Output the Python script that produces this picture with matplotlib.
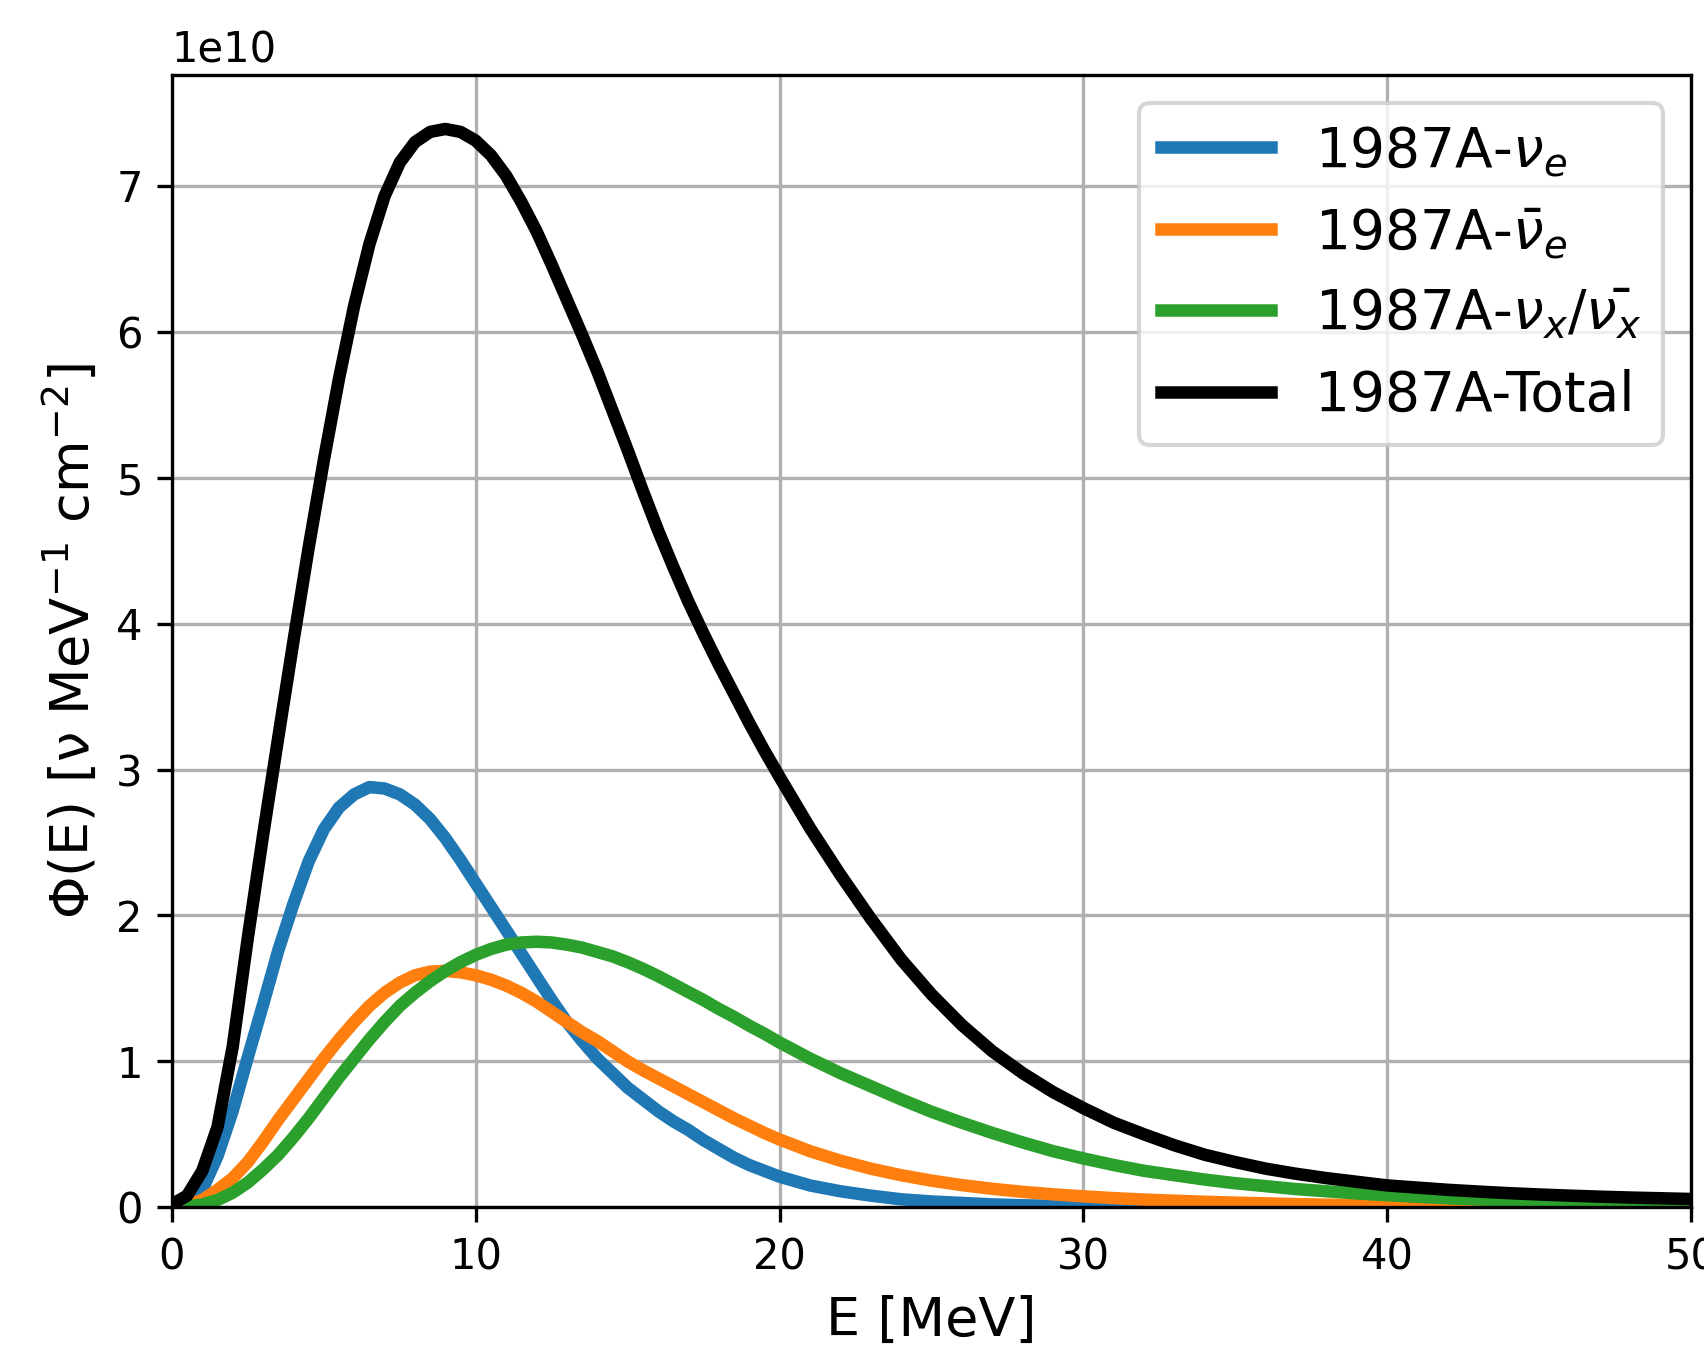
"""SN1987A neutrino spectra at Earth, per flavour and total."""

import matplotlib
matplotlib.use("Agg")
import matplotlib.pyplot as plt

# energy grid [MeV]: half-MeV steps up to 20, then 1 MeV
energy = [i * 0.5 for i in range(41)] + list(range(21, 51))

# fluxes in units of 1e10 nu / MeV / cm^2
flux_nue = [
    # 0 .. 20 in 0.5 steps
    0.0, 0.03, 0.12, 0.35, 0.66, 1.03, 1.39, 1.76, 2.08, 2.37,
    2.59, 2.74, 2.83, 2.88, 2.87, 2.83, 2.76, 2.66, 2.53, 2.38,
    2.22, 2.06, 1.90, 1.74, 1.58, 1.42, 1.27, 1.14, 1.02, 0.92,
    0.82, 0.74, 0.66, 0.59, 0.53, 0.46, 0.40, 0.34, 0.29, 0.25,
    0.21,
    # 21 .. 50
    0.15, 0.11, 0.08, 0.055, 0.04, 0.03, 0.02, 0.014, 0.01, 0.007,
    0.005, 0.004, 0.003, 0.002, 0.002, 0.001, 0.001, 0.001, 0.0, 0.0,
    0.0, 0.0, 0.0, 0.0, 0.0, 0.0, 0.0, 0.0, 0.0, 0.0,
]
flux_nuebar = [
    0.0, 0.015, 0.05, 0.12, 0.20, 0.31, 0.45, 0.60, 0.74, 0.88,
    1.02, 1.15, 1.27, 1.38, 1.47, 1.54, 1.59, 1.615, 1.62, 1.61,
    1.59, 1.56, 1.52, 1.47, 1.41, 1.34, 1.27, 1.20, 1.14, 1.07,
    1.00, 0.94, 0.885, 0.83, 0.775, 0.72, 0.665, 0.61, 0.56, 0.51,
    0.465,
    0.385, 0.32, 0.265, 0.22, 0.183, 0.152, 0.127, 0.106, 0.089, 0.075,
    0.063, 0.053, 0.045, 0.038, 0.032, 0.027, 0.022, 0.018, 0.015, 0.012,
    0.010, 0.008, 0.007, 0.006, 0.005, 0.004, 0.003, 0.003, 0.002, 0.002,
]
flux_nux = [
    0.0, 0.005, 0.02, 0.05, 0.10, 0.17, 0.26, 0.36, 0.48, 0.61,
    0.75, 0.89, 1.02, 1.15, 1.27, 1.38, 1.47, 1.55, 1.62, 1.68,
    1.73, 1.77, 1.80, 1.815, 1.82, 1.815, 1.80, 1.78, 1.75, 1.72,
    1.68, 1.635, 1.585, 1.53, 1.475, 1.42, 1.36, 1.305, 1.245, 1.19,
    1.13,
    1.02, 0.92, 0.83, 0.74, 0.655, 0.58, 0.51, 0.445, 0.385, 0.335,
    0.29, 0.25, 0.22, 0.19, 0.165, 0.145, 0.125, 0.11, 0.095, 0.083,
    0.072, 0.062, 0.054, 0.047, 0.04, 0.035, 0.03, 0.026, 0.022, 0.019,
]
flux_total = [
    0.02, 0.08, 0.25, 0.55, 1.10, 1.85, 2.55, 3.22, 3.88, 4.52,
    5.12, 5.68, 6.18, 6.60, 6.93, 7.16, 7.30, 7.37, 7.39, 7.37,
    7.31, 7.21, 7.07, 6.89, 6.69, 6.46, 6.22, 5.98, 5.73, 5.46,
    5.19, 4.91, 4.64, 4.39, 4.15, 3.93, 3.72, 3.52, 3.32, 3.13,
    2.95,
    2.60, 2.28, 1.98, 1.70, 1.46, 1.25, 1.07, 0.92, 0.79, 0.68,
    0.58, 0.50, 0.425, 0.36, 0.31, 0.265, 0.23, 0.20, 0.175, 0.15,
    0.135, 0.12, 0.108, 0.097, 0.088, 0.08, 0.073, 0.067, 0.062, 0.057,
]

series = [
    (flux_nue, r"1987A-$\nu_e$", "tab:blue"),
    (flux_nuebar, r"1987A-$\bar{\nu}_e$", "tab:orange"),
    (flux_nux, r"1987A-$\nu_x/\bar{\nu_x}$", "tab:green"),
    (flux_total, "1987A-Total", "black"),
]

fig = plt.figure(figsize=(1704 / 300, 1350 / 300), dpi=300)
ax = fig.add_axes([0.1009, 0.1057, 0.8914, 0.8387])

for vals, label, color in series:
    ax.plot(energy, [v * 1e10 for v in vals], color=color, linewidth=3, label=label)

ax.set_xlim(0, 50)
ax.set_ylim(bottom=0)
ax.set_xlabel("E [MeV]", fontsize=13)
ax.set_ylabel("Φ(E) [ν MeV$^{-1}$ cm$^{-2}$]", fontsize=13)
ax.grid(True)
ax.legend(loc="upper right", fontsize=13.2)

fig.savefig("out.png", dpi=300)
